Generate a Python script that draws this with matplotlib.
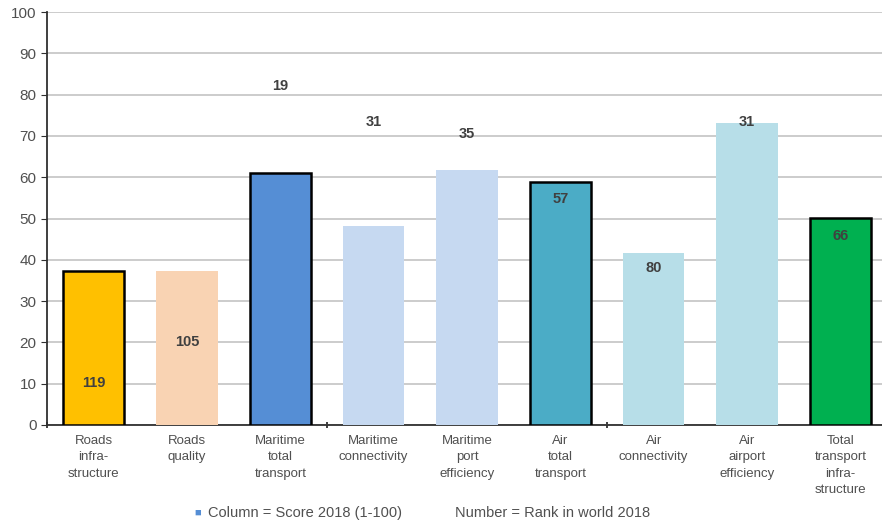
import matplotlib.pyplot as plt
import numpy as np

plt.rcParams['font.family'] = ['Liberation Sans', 'DejaVu Sans']

categories = ["Roads\ninfra-\nstructure", "Roads\nquality", "Maritime\ntotal\ntransport",
              "Maritime\nconnectivity", "Maritime\nport\nefficiency", "Air\ntotal\ntransport",
              "Air\nconnectivity", "Air\nairport\nefficiency", "Total\ntransport\ninfra-\nstructure"]
scores = [37.3, 37.2, 61.0, 48.2, 61.7, 58.8, 41.6, 73.1, 50.1]
ranks = ["119", "105", "19", "31", "35", "57", "80", "31", "66"]
rank_label_y = [10.2, 20.0, 82.0, 73.4, 70.5, 54.7, 38.0, 73.4, 45.8]
colors = ["#FFC000", "#F9D3B3", "#558ED5", "#C6D9F1", "#C6D9F1", "#4BACC6",
          "#B7DEE8", "#B7DEE8", "#00B050"]
outlined = [True, False, True, False, False, True, False, False, True]

text_color = "#404040"
label_color = "#505050"

fig = plt.figure(figsize=(8.82, 5.28), dpi=100)
ax = fig.add_axes([47 / 882, 1 - 425 / 528, 840 / 882, 413 / 528])

x = np.arange(len(categories))
for i in range(len(categories)):
    ax.bar(x[i], scores[i], width=0.66, color=colors[i],
           edgecolor="black" if outlined[i] else "none",
           linewidth=1.8 if outlined[i] else 0, zorder=3)
    ax.text(x[i], rank_label_y[i], ranks[i], ha="center", va="center",
            fontsize=10.5, fontweight="bold", color=text_color, zorder=4)

ax.set_ylim(0, 100)
ax.set_xlim(-0.5, 8.5)
ax.set_yticks(np.arange(0, 101, 10))
ax.yaxis.grid(True, color="#c8c8c8", linewidth=1.3, zorder=0)
ax.set_axisbelow(True)
for s in ["top", "right"]:
    ax.spines[s].set_visible(False)
ax.spines["left"].set_linewidth(1.3)
ax.spines["bottom"].set_linewidth(1.3)
ax.spines["left"].set_color("#303030")
ax.spines["bottom"].set_color("#303030")

ax.tick_params(axis="y", labelsize=11, labelcolor=label_color, length=4, color="#303030")
ax.set_xticks(x)
ax.set_xticklabels(categories, fontsize=9.5, color=label_color, linespacing=1.5)
ax.tick_params(axis="x", length=0, pad=7)
ax.set_xticks([-0.5, 2.5, 5.5], minor=True)
ax.tick_params(axis="x", which="minor", length=5, width=1.3, color="#303030", direction="inout")

fig.text(194 / 882, 1 - 513 / 528, "\u25a0", color="#558ED5", fontsize=8, va="center")
fig.text(208 / 882, 1 - 513 / 528, "Column = Score 2018 (1-100)", color=label_color,
         fontsize=10.5, va="center")
fig.text(455 / 882, 1 - 513 / 528, "Number = Rank in world 2018", color=label_color,
         fontsize=10.5, va="center")

fig.savefig("out.png", dpi=100)
